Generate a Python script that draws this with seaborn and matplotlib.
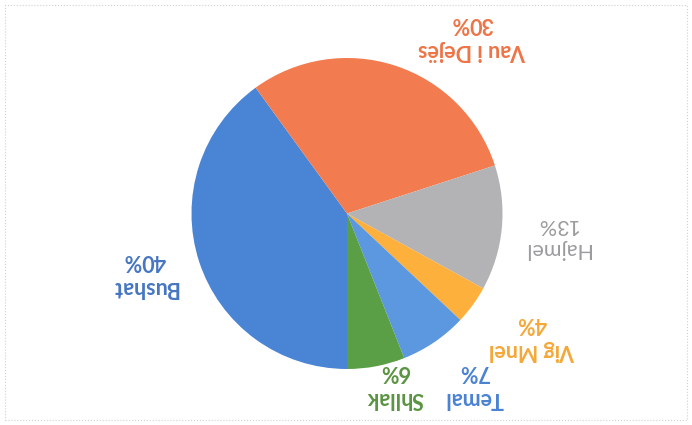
import matplotlib
matplotlib.use("Agg")
import matplotlib.pyplot as plt
from matplotlib.patches import Rectangle
import seaborn as sns

# ---- data ----
categories = ["Bushat", "Vau i Dejës", "Hajmel", "Vig Mnel", "Temal", "Shllak"]
values = [40, 30, 13, 4, 7, 6]
pct_labels = ["40%", "30%", "13%", "4%", "7%", "6%"]

# ---- styles ----
wedge_colors = ["#4A84D4", "#F27B4F", "#B3B3B5", "#FDB03C", "#5C98E0", "#5A9E46"]
text_colors = ["#4676C2", "#EE7446", "#9C9C9E", "#F4A838", "#4A82D2", "#5A9442"]
text_weights = ["bold", "bold", "normal", "bold", "bold", "bold"]
# label block centres (pixel layout, image y downward)
label_pos = [(145, 274), (472, 37), (557, 237), (532, 337), (474, 385), (395, 385)]

sns.set_theme(style="white")
plt.rcParams["font.family"] = ["Lato", "DejaVu Sans"]

W, H = 692, 425
fig = plt.figure(figsize=(W / 100, H / 100), dpi=100)
ax = fig.add_axes([0, 0, 1, 1])

cx, cy_img, r = 347, 213.5, 155.5
wedges, _ = ax.pie(values, colors=wedge_colors, startangle=270, counterclock=False,
                   center=(cx, H - cy_img), radius=r, frame=True,
                   wedgeprops=dict(linewidth=0))
ax.set_xlim(0, W)
ax.set_ylim(0, H)
ax.set_aspect("equal")
ax.axis("off")

for name, pct, col, wt, (px, py) in zip(categories, pct_labels, text_colors, text_weights, label_pos):
    ax.text(px, H - py, f"{name}\n{pct}", rotation=180, ha="center", va="center",
            multialignment="center", color=col, fontsize=15.5, fontweight=wt,
            linespacing=1.3)

ax.add_patch(Rectangle((5, 5), W - 10, H - 10, fill=False, edgecolor="#d0d0d0",
                       linestyle=":", linewidth=0.8))

fig.savefig("out.png", dpi=100, facecolor="white")
